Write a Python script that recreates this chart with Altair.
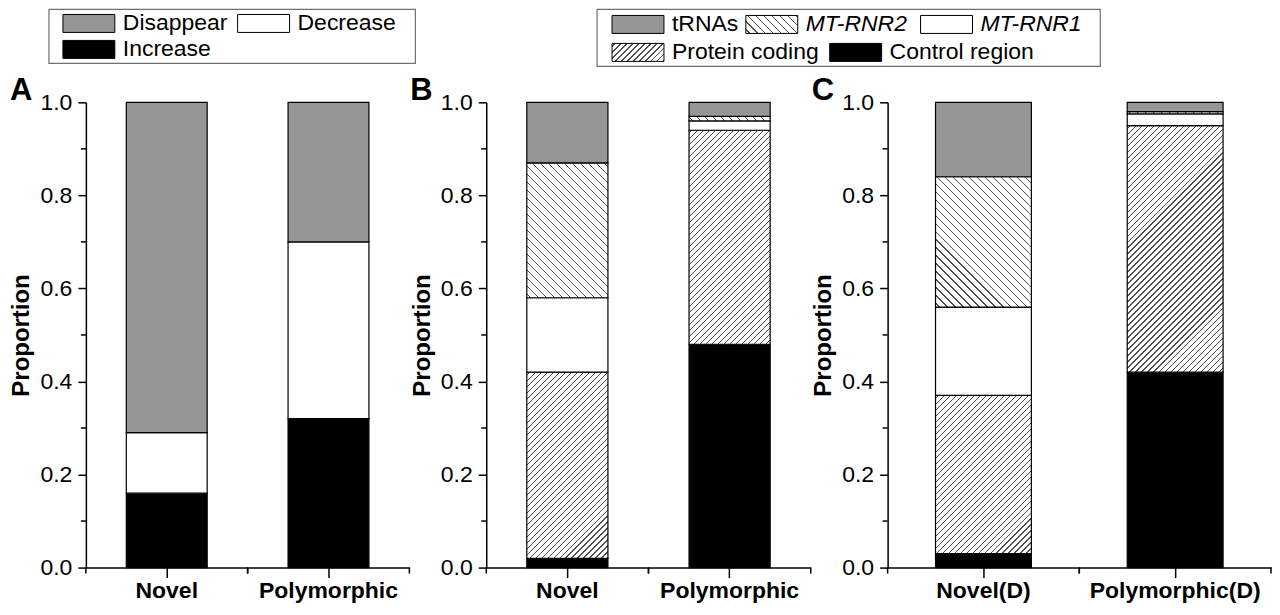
import altair as alt

FONT = "Liberation Sans"
GRAY = "#969696"
INK = "#505050"

# ---------------- data ----------------
change_classes = ["Increase", "Decrease", "Disappear"]          # bottom -> top
a_categories = ["Novel", "Polymorphic"]
a_increase = [0.16, 0.32]
a_decrease = [0.13, 0.38]
a_disappear = [0.71, 0.30]

region_classes = ["Control region", "Protein coding", "MT-RNR1", "MT-RNR2", "tRNAs"]  # bottom -> top
b_categories = ["Novel", "Polymorphic"]
b_control = [0.02, 0.48]
b_protein = [0.40, 0.46]
b_rnr1 = [0.16, 0.02]
b_rnr2 = [0.29, 0.01]
b_trnas = [0.13, 0.03]

c_categories = ["Novel(D)", "Polymorphic(D)"]
c_control = [0.03, 0.42]
c_protein = [0.34, 0.53]
c_rnr1 = [0.19, 0.025]
c_rnr2 = [0.28, 0.005]
c_trnas = [0.16, 0.02]

y_ticks = [0.0, 0.2, 0.4, 0.6, 0.8, 1.0]
y_minor = [0.1, 0.3, 0.5, 0.7, 0.9]

panel_letters = ["A", "B", "C"]
legend1_labels = ["Disappear", "Decrease", "Increase"]
legend2_labels = ["tRNAs", "MT-RNR2", "MT-RNR1", "Protein coding", "Control region"]
italic_labels = ["MT-RNR2", "MT-RNR1"]

# ---------------- layout ----------------
PLOT_H = 466
WIDTHS = [324, 325, 384]
LEFT = 76            # axis title + labels + ticks
LW = sum(WIDTHS) + 2 * LEFT   # legend width measured from panel A's plot origin
LH = 57
SYM_W, SYM_H = 52, 18
# legend positions relative to panel A's plot origin
legend1_sym_x = [-23, 152, -23]
legend1_row = [0, 0, 1]
legend2_sym_x = [527, 661, 836, 527, 745]
legend2_row = [0, 0, 0, 1, 1]
legend1_row_y = [14, 40]
legend2_row_y = [15, 43]
legend_boxes = [(-37, 330, 0, 54), (512, 1016, 0, 57)]

# ---------------- styles ----------------
STYLE = {
    "Disappear": ("solid", GRAY),
    "Decrease": ("solid", "white"),
    "Increase": ("solid", "black"),
    "tRNAs": ("solid", GRAY),
    "MT-RNR2": ("back", 8.0),
    "MT-RNR1": ("solid", "white"),
    "Protein coding": ("fwd", 6.0),
    "Control region": ("solid", "black"),
}


def hatch(w, h, period, kind, lw=1.25):
    h = max(h, 0.5)
    L = w + h + period
    c = L * w / (w * w + h * h)
    if kind == "fwd":
        g = {"x1": 0, "y1": 0, "x2": c, "y2": c * h / w}
    else:
        g = {"x1": 0, "y1": 1, "x2": c, "y2": 1 - c * h / w}
    stops = [{"offset": 0, "color": "white"}]
    k = 0
    while True:
        s = period * (k + 0.5)
        a, b = (s - lw / 2) / L, (s + lw / 2) / L
        if a >= 1:
            break
        b = min(b, 1.0)
        a, b = round(a, 5), round(b, 5)
        stops += [{"offset": a, "color": "white"}, {"offset": a, "color": INK},
                  {"offset": b, "color": INK}, {"offset": b, "color": "white"}]
        k += 1
    stops.append({"offset": 1, "color": "white"})
    return {"gradient": "linear", **g, "stops": stops}


def paint(cls, w, h):
    kind, arg = STYLE[cls]
    if kind == "solid":
        return arg
    return hatch(w, h, arg, kind)


def panel_rows(cats, series, width):
    rows = []
    bw = width / 4
    for i, cat in enumerate(cats):
        for order, (cls, vals) in enumerate(series):
            v = vals[i]
            rows.append({"cat": cat, "cls": cls, "order": order, "value": v,
                         "paint": paint(cls, bw, v * PLOT_H)})
    return rows


def x_axis():
    return alt.Axis(labelFontSize=23, labelFontWeight="bold", labelAngle=0,
                    tickSize=10, tickWidth=1.5, domainWidth=1.5, labelPadding=2,
                    labelFont=FONT, labelColor="black", domainColor="black",
                    tickColor="black", grid=False, title=None)


def y_axis():
    return alt.Axis(values=y_ticks, format=".1f", tickSize=8, tickWidth=1.5,
                    domainWidth=1.5, labelFontSize=23, labelPadding=6,
                    titleFontSize=24, titleFontWeight="bold", titlePadding=6,
                    labelFont=FONT, titleFont=FONT, labelColor="black",
                    titleColor="black", domainColor="black", tickColor="black",
                    grid=False, title="Proportion")


def panel(rows, cats, width, letter):
    xscale = alt.Scale(domain=cats, paddingInner=0.5, paddingOuter=0.25)
    yscale = alt.Scale(domain=[0, 1], nice=False)
    bars = alt.Chart(alt.Data(values=rows)).transform_stack(
        stack="value", groupby=["cat"], sort=[alt.SortField("order", order="ascending")],
        as_=["y0", "y1"]
    ).mark_bar(stroke="black", strokeWidth=1.2).encode(
        x=alt.X("cat:N", scale=xscale, sort=cats, title=None, axis=x_axis()),
        y=alt.Y("y0:Q", scale=yscale, title="Proportion", axis=y_axis()),
        y2="y1:Q",
        fill=alt.Fill("paint:N", scale=None),
    )
    yminor = alt.Chart(alt.Data(values=[{"v": v} for v in y_minor])).mark_rule(
        color="black", strokeWidth=1.5
    ).encode(
        y=alt.Y("v:Q", scale=yscale, title="Proportion", axis=y_axis()),
        x=alt.value(0), x2=alt.value(-5),
    )
    cat_rows = [{"cat": c} for c in cats]
    xminor = []
    for bp, off in ((0, -width / 8), (1, width / 8)):
        xminor.append(alt.Chart(alt.Data(values=cat_rows)).mark_rule(
            color="black", strokeWidth=1.5, xOffset=off
        ).encode(
            x=alt.X("cat:N", scale=xscale, sort=cats, bandPosition=bp, title=None, axis=x_axis()),
            y=alt.value(PLOT_H), y2=alt.value(PLOT_H + 6),
        ))
    label = alt.Chart(alt.Data(values=[{"letter": letter}])).mark_text(
        align="left", baseline="alphabetic", fontSize=31, fontWeight="bold",
        font=FONT, color="black"
    ).encode(text="letter:N", x=alt.value(-LEFT), y=alt.value(-2))
    return alt.layer(bars, yminor, *xminor, label).properties(width=width, height=PLOT_H)


rows_a = panel_rows(a_categories, [("Increase", a_increase), ("Decrease", a_decrease),
                                   ("Disappear", a_disappear)], WIDTHS[0])
rows_b = panel_rows(b_categories, [("Control region", b_control), ("Protein coding", b_protein),
                                   ("MT-RNR1", b_rnr1), ("MT-RNR2", b_rnr2), ("tRNAs", b_trnas)],
                    WIDTHS[1])
rows_c = panel_rows(c_categories, [("Control region", c_control), ("Protein coding", c_protein),
                                   ("MT-RNR1", c_rnr1), ("MT-RNR2", c_rnr2), ("tRNAs", c_trnas)],
                    WIDTHS[2])

pa = panel(rows_a, a_categories, WIDTHS[0], panel_letters[0])
pb = panel(rows_b, b_categories, WIDTHS[1], panel_letters[1])
pc = panel(rows_c, c_categories, WIDTHS[2], panel_letters[2])

# ---------------- legend ----------------
leg_rows = []
for labels, xs, rws, ry in ((legend1_labels, legend1_sym_x, legend1_row, legend1_row_y),
                            (legend2_labels, legend2_sym_x, legend2_row, legend2_row_y)):
    for lab, sx, r in zip(labels, xs, rws):
        yc = ry[r]
        leg_rows.append({"label": lab, "sx": sx, "sx2": sx + SYM_W, "tx": sx + 60,
                         "sy": yc - SYM_H / 2, "sy2": yc + SYM_H / 2, "yc": yc,
                         "italic": lab in italic_labels, "paint": paint(lab, SYM_W, SYM_H)})
box_rows = [{"x": b[0], "x2": b[1], "y": b[2], "y2": b[3]} for b in legend_boxes]

lx = alt.Scale(domain=[0, LW], range=[0, LW], nice=False, zero=False)
ly = alt.Scale(domain=[0, LH], range=[0, LH], nice=False, zero=False)

boxes = alt.Chart(alt.Data(values=box_rows)).mark_rect(
    fill="white", stroke="#707070", strokeWidth=1.2
).encode(
    x=alt.X("x:Q", scale=lx, axis=None), x2="x2:Q",
    y=alt.Y("y:Q", scale=ly, axis=None), y2="y2:Q",
)
leg_base = alt.Chart(alt.Data(values=leg_rows))
syms = leg_base.mark_rect(stroke="black", strokeWidth=1).encode(
    x=alt.X("sx:Q", scale=lx, axis=None), x2="sx2:Q",
    y=alt.Y("sy:Q", scale=ly, axis=None), y2="sy2:Q",
    fill=alt.Fill("paint:N", scale=None),
)
txt_n = leg_base.transform_filter("!datum.italic").mark_text(
    align="left", baseline="middle", fontSize=23, font=FONT, color="black"
).encode(x=alt.X("tx:Q", scale=lx, axis=None), y=alt.Y("yc:Q", scale=ly, axis=None),
         text="label:N")
txt_i = leg_base.transform_filter("datum.italic").mark_text(
    align="left", baseline="middle", fontSize=23, font=FONT, color="black", fontStyle="italic"
).encode(x=alt.X("tx:Q", scale=lx, axis=None), y=alt.Y("yc:Q", scale=ly, axis=None),
         text="label:N")
legend = alt.layer(boxes, syms, txt_n, txt_i).properties(width=LW, height=LH)

chart = alt.vconcat(
    legend,
    alt.hconcat(pa, pb, pc, spacing=0),
    spacing=8,
).properties(
    padding={"left": 2, "top": 0, "right": 0, "bottom": 0},
).configure_view(stroke=None)

chart.save("out.html", embed_options={"renderer": "svg", "actions": False})
